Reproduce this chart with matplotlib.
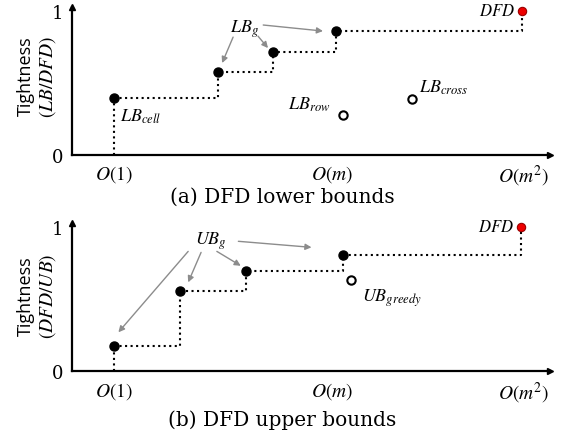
import matplotlib
matplotlib.use("Agg")
import matplotlib.pyplot as plt

plt.rcParams['mathtext.fontset'] = 'stix'

# x positions on the (schematic) complexity axis, y = tightness
tick_pos = [0.088, 0.544, 0.944]
tick_labels = [r'$O(1)$', r'$O(m)$', r'$O(m^2)$']

lb_g_x = [0.088, 0.305, 0.42, 0.552]
lb_g_y = [0.396, 0.576, 0.715, 0.861]
lb_dfd = (0.941, 1.0)
lb_row = (0.567, 0.278)
lb_cross = (0.711, 0.389)

ub_g_x = [0.088, 0.226, 0.364, 0.566]
ub_g_y = [0.174, 0.56, 0.70, 0.81]
ub_dfd = (0.94, 1.0)
ub_greedy = (0.584, 0.636)

SERIF = 'DejaVu Serif'
MATHSIZE = 13
GRAY = '#8c8c8c'


def setup_axes(ax):
    ax.set_xlim(0, 1)
    ax.set_ylim(0, 1.03)
    for s in ['top', 'right']:
        ax.spines[s].set_visible(False)
    for s in ['left', 'bottom']:
        ax.spines[s].set_linewidth(1.6)
    ax.plot(1, 0, '>k', ms=5, transform=ax.get_yaxis_transform(), clip_on=False)
    ax.plot(0, 1, '^k', ms=5, transform=ax.get_xaxis_transform(), clip_on=False)
    ax.set_xticks(tick_pos)
    ax.set_xticklabels(tick_labels, fontsize=14)
    ax.set_yticks([0, 1])
    ax.set_yticklabels(['0', '1'], fontsize=13, family=SERIF)
    ax.tick_params(length=0, pad=6)
    ax.patch.set_visible(False)


def draw_steps(ax, xs, ys, dfd):
    sx = xs + [dfd[0]]
    sy = ys + [dfd[1]]
    ax.plot(sx, sy, drawstyle='steps-post', ls=':', color='k', lw=1.5)
    ax.plot([xs[0], xs[0]], [0, ys[0]], ls=':', color='k', lw=1.5)
    ax.plot(xs, ys, 'o', color='k', ms=6.5, zorder=5)
    ax.plot([dfd[0]], [dfd[1]], 'o', mfc='#ee0000', mec='#990000', ms=6, mew=0.8,
            zorder=5, clip_on=False)
    ax.text(dfd[0] - 0.09, 0.972, r'$DFD$', fontsize=12, ha='left', va='baseline')


def arrow(ax, start, end):
    ax.annotate('', xy=end, xytext=start,
                arrowprops=dict(arrowstyle='-|>', color=GRAY, lw=1.0,
                                mutation_scale=9, shrinkA=0, shrinkB=0))


fig = plt.figure(figsize=(5.72, 4.39), dpi=100)
ax1 = fig.add_axes([0.1259, 0.6446, 0.8357, 0.3378])
ax2 = fig.add_axes([0.1259, 0.1519, 0.8357, 0.3378])

# (a) lower bounds
setup_axes(ax1)
draw_steps(ax1, lb_g_x, lb_g_y, lb_dfd)
ax1.plot(*lb_row, 'o', mfc='white', mec='k', mew=1.5, ms=6, zorder=5)
ax1.plot(*lb_cross, 'o', mfc='white', mec='k', mew=1.5, ms=6, zorder=5)
ax1.text(0.100, 0.236, r'$LB_{cell}$', fontsize=MATHSIZE, va='baseline')
ax1.text(0.452, 0.32, r'$LB_{row}$', fontsize=MATHSIZE, va='baseline')
ax1.text(0.726, 0.4375, r'$LB_{cross}$', fontsize=MATHSIZE, va='baseline')
ax1.text(0.331, 0.854, r'$LB_g$', fontsize=MATHSIZE, va='baseline')
arrow(ax1, (0.337, 0.819), (0.314, 0.639))
arrow(ax1, (0.389, 0.826), (0.41, 0.743))
arrow(ax1, (0.40, 0.903), (0.525, 0.861))

# (b) upper bounds
setup_axes(ax2)
draw_steps(ax2, ub_g_x, ub_g_y, ub_dfd)
ax2.plot(*ub_greedy, 'o', mfc='white', mec='k', mew=1.5, ms=6, zorder=5)
ax2.text(0.606, 0.49, r'$UB_{greedy}$', fontsize=MATHSIZE, va='baseline')
ax2.text(0.257, 0.889, r'$UB_g$', fontsize=MATHSIZE, va='baseline')
arrow(ax2, (0.243, 0.833), (0.097, 0.271))
arrow(ax2, (0.27, 0.826), (0.243, 0.618))
arrow(ax2, (0.303, 0.833), (0.353, 0.733))
arrow(ax2, (0.348, 0.903), (0.501, 0.861))

# y labels
for yc, expr in [(0.826, r'$(LB/DFD)$'), (0.326, r'$(DFD/UB)$')]:
    fig.text(0.045, yc, 'Tightness', rotation=90, fontsize=13, family='Open Sans',
             ha='center', va='center')
    fig.text(0.083, yc, expr, rotation=90, fontsize=14, ha='center', va='center')

# captions
fig.text(0.493, 0.551, '(a) DFD lower bounds', fontsize=14.5, family=SERIF,
         ha='center', va='center')
fig.text(0.493, 0.043, '(b) DFD upper bounds', fontsize=14.5, family=SERIF,
         ha='center', va='center')

fig.savefig('out.png', dpi=100)
